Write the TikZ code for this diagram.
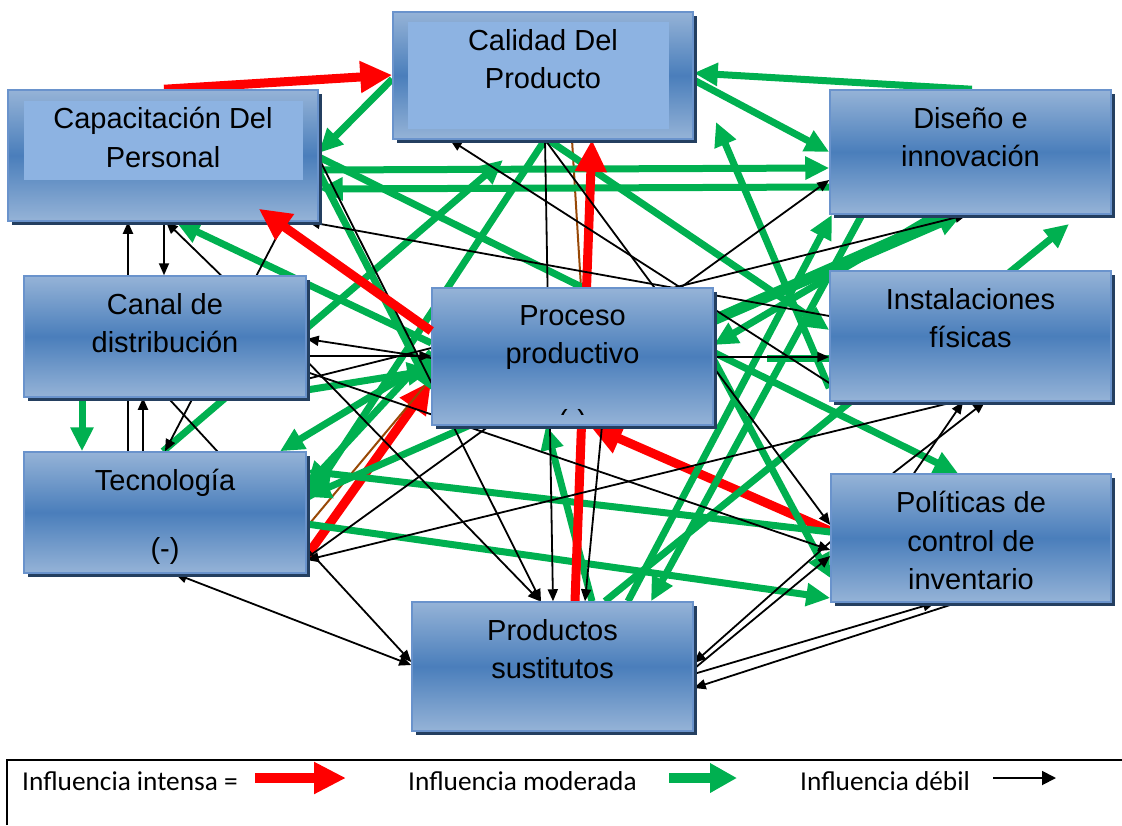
\documentclass[tikz,border=0pt]{standalone}
\usepackage{fontspec}
\setmainfont{Liberation Sans}
\newfontfamily\leyenda{Carlito}
\usetikzlibrary{positioning, calc, arrows.meta, shadows}

\definecolor{azulclaro}{HTML}{95B3D7}
\definecolor{azulmedio}{HTML}{4A7EBB}
\definecolor{azulborde}{HTML}{6A93CC}
\definecolor{azulfondo}{HTML}{8DB3E2}
\definecolor{sombra}{HTML}{243F60}
\definecolor{verde}{HTML}{00B050}
\definecolor{cafe}{HTML}{984806}

\pgfdeclarelayer{fondo}
\pgfsetlayers{fondo,main}

\begin{document}
\begin{tikzpicture}[x=1pt, y=-1pt,
	caja/.style={draw=azulborde, line width=1.5pt, top color=azulclaro, bottom color=azulclaro, middle color=azulmedio, inner sep=0pt,
		drop shadow={shadow xshift=4pt, shadow yshift=-4pt, fill=sombra, opacity=1}},
	rotulo/.style={align=center, inner sep=0pt, font=\fontsize{29}{38.5}\selectfont},
	leyendatxt/.style={inner sep=0pt, font=\leyenda\fontsize{27.3}{33}\selectfont},
	fuerte/.style={draw=red, line width=9pt, -{Triangle[length=32pt,width=30pt]}},
	moderada/.style={draw=verde, line width=7pt, -{Triangle[length=24pt,width=22pt]}},
	debil/.style={draw=black, line width=1.8pt, -{Triangle[length=12pt,width=10pt]}},
	doble/.style={debil, {Triangle[length=12pt,width=10pt]}-{Triangle[length=12pt,width=10pt]}},
	marron/.style={draw=cafe, line width=2pt}]

	\useasboundingbox (0,0) rectangle (1122,825);

	\node[caja, minimum width=300pt, minimum height=127pt] (cal) at (543,75.5) {};
	\node[caja, minimum width=310pt, minimum height=131pt] (cap) at (163,155.5) {};
	\node[caja, minimum width=281pt, minimum height=124pt] (dis) at (970.5,152) {};
	\node[caja, minimum width=282pt, minimum height=121pt] (can) at (165,336.5) {};
	\node[caja, minimum width=281pt, minimum height=137pt] (pro) at (572.5,356.5) {};
	\node[caja, minimum width=281pt, minimum height=130pt] (ins) at (970.5,336) {};
	\node[caja, minimum width=282pt, minimum height=121pt] (tec) at (165,512.5) {};
	\node[caja, minimum width=280pt, minimum height=128pt] (pol) at (971,538) {};
	\node[caja, minimum width=281pt, minimum height=129pt] (prs) at (552.5,666.5) {};

	\fill[azulfondo] ($(cal.north west)+(16,11)$) rectangle ($(cal.south east)+(-25,-11)$);
	\fill[azulfondo] ($(cap.north west)+(17,12)$) rectangle ($(cap.south east)+(-16,-42)$);

	\node[rotulo, below=18pt of cal.north] (calt) {Calidad Del\\Producto};
	\node[rotulo, below=18pt of cap.north] (capt) {Capacitación Del\\Personal};
	\node[rotulo, below=18pt of dis.north] (dist) {Diseño e\\innovación};
	\node[rotulo, below=18pt of can.north] (cant) {Canal de\\distribución};
	\node[rotulo, below=18pt of pro.north] (prot) {Proceso\\productivo};
	\node[rotulo, below=18pt of ins.north] (inst) {Instalaciones\\físicas};
	\node[rotulo, below=18pt of tec.north] (tect) {Tecnología\\[29pt](-)};
	\node[rotulo, below=18pt of pol.north] (polt) {Políticas de\\control de\\inventario};
	\node[rotulo, below=18pt of prs.north] (prst) {Productos\\sustitutos};

	\begin{scope}
		\clip ($(pro.south west)+(4,-20)$) rectangle ($(pro.south east)+(-4,-11)$);
		\node[rotulo, anchor=base] (pros) at ($(pro.south)+(0,5)$) {(-)};
	\end{scope}

	\coordinate (fin1) at (503,160);
	\coordinate (fin2) at (1069,224);
	\coordinate (fin3) at (716,122);
	\coordinate (ini1) at (767,358);

	\begin{pgfonlayer}{fondo}
	\draw[fuerte] (pol.west |- 0,531) -- (pro.south -| 590,0);
	\draw[fuerte] (tec.east |- 0,556) -- (pro.west |- 0,381);
	\draw[marron] (cal.south -| 572,0) -- (pro.north -| 581,0);
	\draw[marron] (tec.east |- 0,527) -- (pro.west |- 0,378);

	\draw[moderada] (dis.north -| 972,0) -- (cal.east |- 0,73);
	\draw[moderada] (cal.east |- 0,80) -- (dis.west |- 0,152);
	\draw[moderada] (cal.west |- 0,79) -- (cap.east |- 0,153);
	\draw[moderada] (cap.east |- 0,170) -- (dis.west |- 0,168);
	\draw[moderada] (dis.west |- 0,187) -- (cap.east |- 0,189);
	\draw[moderada] (cap.east |- 0,157) -- (pol.north -| 958,0);
	\draw[moderada] (cal.south -| 545,0) -- (tec.east |- 0,502);
	\draw[moderada] (cal.south -| 548,0) -- (ins.west |- 0,330);
	\draw[moderada] (tec.north -| 163,0) -- (fin1);
	\draw[moderada] (pro.west |- 0,343) -- (cap.south -| 176,0);
	\draw[moderada] (prs.north -| 605,0) -- (fin2);
	\draw[moderada] (ins.west |- 0,388) -- (fin3);
	\draw[moderada] (pol.west |- 0,532) -- (tec.east |- 0,471);
	\draw[moderada] (tec.east |- 0,524) -- (pol.west |- 0,598);
	\draw[moderada] (prs.north -| 592,0) -- (pro.south -| 546,0);
	\draw[moderada] (dis.south -| 862,0) -- (prs.north -| 651,0);
	\draw[moderada] (prs.north -| 628,0) -- (dis.south -| 832,0);
	\draw[moderada] (pro.east |- 0,360) -- (pol.west |- 0,578);
	\draw[moderada] (pro.east |- 0,322) -- (dis.south -| 962,0);
	\draw[moderada] (dis.south -| 948,0) -- (tec.east |- 0,497);
	\draw[moderada] (dis.south -| 935,0) -- (pro.east |- 0,345);
	\draw[moderada] (can.south -| 82,0) -- (tec.north -| 82,0);
	\draw[moderada] (can.east |- 0,390) -- (pro.west |- 0,370);
	\draw[moderada] (pro.west |- 0,360) -- (tec.north -| 280,0);
	\draw[moderada] (cap.east |- 0,172) -- (pro.west |- 0,390);
	\draw[moderada] (pro.west |- 0,352) -- (tec.east |- 0,486);
	\draw[moderada, -] (ini1) -- (ins.west |- 0,358);

	\draw[fuerte] (cap.north -| 164,0) -- (cal.west |- 0,75);
	\draw[fuerte] (prs.north -| 575,0) -- (cal.south -| 592,0);

	\draw[debil] (tec.north -| 128,0) -- (cap.south -| 128,0);
	\draw[debil] (cap.south -| 164,0) -- (can.north -| 164,0);
	\draw[debil] (can.north -| 221,0) -- (cap.south -| 166,0);
	\draw[debil] (cap.east |- 0,156) -- (tec.north -| 165,0);
	\draw[debil] (cap.east |- 0,158) -- (prs.north -| 541,0);
	\draw[debil] (pro.west |- 0,358) -- (can.east |- 0,339);
	\draw[debil] (can.east |- 0,356) -- (pro.west |- 0,356);
	\draw[debil] (ins.west |- 0,316) -- (cap.south -| 308,0);
	\draw[debil] (ins.west |- 0,383) -- (cal.south -| 450,0);
	\draw[debil] (cal.south -| 545,0) -- (prs.north -| 553,0);
	\draw[debil] (cal.south -| 545,0) -- (pol.west |- 0,525);
	\draw[debil] (tec.east |- 0,558) -- (dis.west |- 0,180);
	\draw[debil] (can.east |- 0,379) -- (dis.south -| 967,0);
	\draw[debil] (pro.east |- 0,357) -- (ins.west |- 0,357);
	\draw[debil] (can.east |- 0,372) -- (pol.west |- 0,550);
	\draw[debil] (ins.south -| 955,0) -- (tec.east |- 0,560);
	\draw[debil] (pol.north -| 893,0) -- (ins.south -| 985,0);
	\draw[debil] (pol.north -| 914,0) -- (ins.south -| 963,0);
	\draw[debil] (pol.west |- 0,542) -- (prs.east |- 0,663);
	\draw[debil] (prs.east |- 0,669) -- (pol.west |- 0,556);
	\draw[debil] (prs.east |- 0,674) -- (pol.south -| 935,0);
	\draw[debil] (pol.south -| 957,0) -- (prs.east |- 0,688);
	\draw[doble] (tec.south -| 175,0) -- (prs.west |- 0,665);
	\draw[debil] (can.south -| 168,0) -- (prs.west |- 0,662);
	\draw[debil] (tec.north -| 143,0) -- (can.south -| 143,0);
	\draw[debil] (can.east |- 0,361) -- (prs.north -| 540,0);
	\draw[debil] (pro.south -| 602,0) -- (prs.north -| 585,0);
	\end{pgfonlayer}

	\draw[fuerte] (pro.west |- 0,331) -- ($(cap.south east)+(-60,-13)$);

	\draw[line width=1.5pt] (7,825) -- (7,760) -- (1122,760);
	\node[leyendatxt, anchor=base west] (li) at (22,790) {Influencia intensa =};
	\node[leyendatxt, anchor=base west] (lm) at (408,790) {Influencia moderada};
	\node[leyendatxt, anchor=base west] (ld) at (800,790) {Influencia débil};
	\draw[fuerte, line width=10pt] ($(li.base west)+(233,-12)$) -- ++(91,0);
	\draw[moderada, line width=10pt, -{Triangle[length=27pt,width=28pt]}] ($(lm.base west)+(261,-12)$) -- ++(68,0);
	\draw[debil, -{Triangle[length=14pt,width=14pt]}] ($(ld.base west)+(193,-12)$) -- ++(63,0);
\end{tikzpicture}
\end{document}
